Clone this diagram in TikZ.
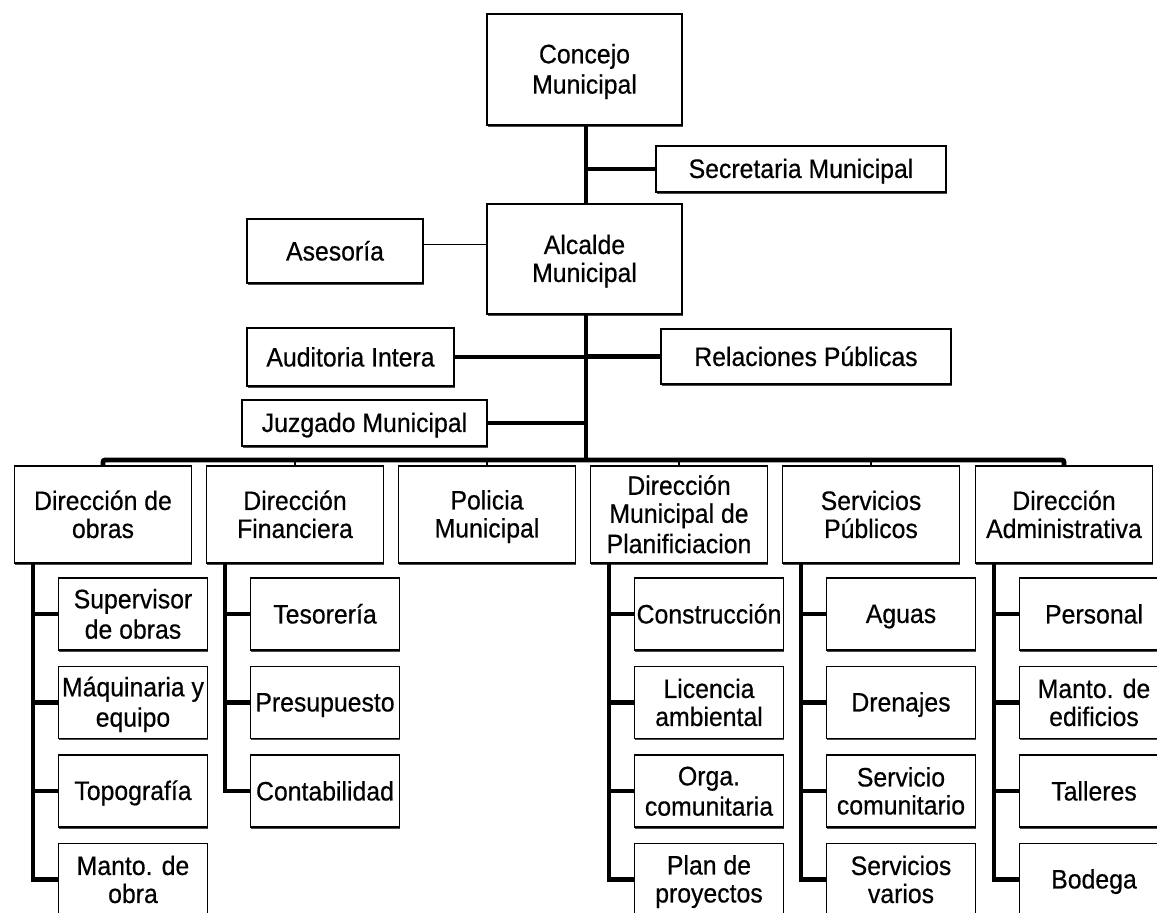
\documentclass[tikz,border=0pt]{standalone}
\usepackage{fontspec}
\setmainfont{Liberation Sans}[FakeStretch=0.93,FakeBold=0.5]
\usetikzlibrary{shadows}
\newcommand{\orgfs}{\fontsize{20}{21}\selectfont}
\newcommand{\sr}{\rule[-3.4pt]{0pt}{21pt}}
\begin{document}
\begin{tikzpicture}[x=0.75pt,y=-0.75pt,
  box/.style={draw=black, line width=1.1pt, fill=white, align=center, inner sep=0pt, font=\orgfs,
    drop shadow={shadow xshift=0.5pt, shadow yshift=-1.4pt, fill=black!70, opacity=1}},
  lvl/.style={box, minimum width=132.75pt, minimum height=72.75pt},
  subbox/.style={box, minimum width=111.75pt, minimum height=54pt},
  thickline/.style={line width=3.6pt, line join=miter},
  subline/.style={line width=3.2pt, line join=miter},
  thinline/.style={line width=1pt},
  stub/.style={line width=1.6pt}]
\useasboundingbox (0,0) rectangle (1157,913);
\fill[white] (0,0) rectangle (1157,913);
\begin{scope}
\clip (0,0) rectangle (1157,913);

% upper part
\node[box, minimum width=146.25pt, minimum height=83.25pt] (concejo) at (584.5,69.5) {\sr Concejo\\\sr Municipal};
\node[box, minimum width=217.5pt, minimum height=34.5pt] (secretaria) at (801,169) {\sr Secretaria Municipal};
\node[box, minimum width=146.25pt, minimum height=82.5pt] (alcalde) at (584.5,259) {\sr Alcalde\\\sr Municipal};
\node[box, minimum width=132pt, minimum height=48pt] (asesoria) at (335,251) {\sr Asesoría};
\node[box, minimum width=155.25pt, minimum height=43.5pt] (auditoria) at (350.5,357) {\sr Auditoria Intera};
\node[box, minimum width=217.5pt, minimum height=41.25pt] (relaciones) at (806,356.5) {\sr Relaciones Públicas};
\node[box, minimum width=183.75pt, minimum height=34.5pt] (juzgado) at (364.5,423) {\sr Juzgado Municipal};

% level 1
\node[lvl] (d1) at (103,514.5) {\sr Dirección de\\\sr obras};
\node[lvl] (d2) at (295,514.5) {\sr Dirección\\\sr Financiera};
\node[lvl] (d3) at (487,514.5) {\sr Policia\\\sr Municipal};
\node[lvl] (d4) at (679,514.5) {\sr Dirección\\\sr Municipal de\\\sr Planificiacion};
\node[lvl] (d5) at (871,514.5) {\sr Servicios\\\sr Públicos};
\node[lvl] (d6) at (1064,514.5) {\sr Dirección\\\sr Administrativa};

% sub boxes
\node[subbox] (s11) at (133,614) {\sr Supervisor\\\sr de obras};
\node[subbox] (s12) at (133,702.5) {\sr Máquinaria y\\\sr equipo};
\node[subbox] (s13) at (133,791) {\sr Topografía};
\node[subbox] (s14) at (133,879.5) {\sr Manto. de\\\sr obra};

\node[subbox] (s21) at (325,614) {\sr Tesorería};
\node[subbox] (s22) at (325,702.5) {\sr Presupuesto};
\node[subbox] (s23) at (325,791) {\sr Contabilidad};

\node[subbox] (s41) at (709,614) {\sr Construcción};
\node[subbox] (s42) at (709,702.5) {\sr Licencia\\\sr ambiental};
\node[subbox] (s43) at (709,791) {\sr Orga.\\\sr comunitaria};
\node[subbox] (s44) at (709,879.5) {\sr Plan de\\\sr proyectos};

\node[subbox] (s51) at (901,614) {\sr Aguas};
\node[subbox] (s52) at (901,702.5) {\sr Drenajes};
\node[subbox] (s53) at (901,791) {\sr Servicio\\\sr comunitario};
\node[subbox] (s54) at (901,879.5) {\sr Servicios\\\sr varios};

\node[subbox] (s61) at (1094,614) {\sr Personal};
\node[subbox] (s62) at (1094,702.5) {\sr Manto. de\\\sr edificios};
\node[subbox] (s63) at (1094,791) {\sr Talleres};
\node[subbox] (s64) at (1094,879.5) {\sr Bodega};

% connectors upper
\coordinate (bus) at (586,460);
\draw[thickline] ([xshift=1.1pt]concejo.south) -- ([xshift=1.1pt]alcalde.north);
\draw[thickline] ([xshift=1.1pt]alcalde.south) -- ([xshift=1.1pt]alcalde.south |- bus);
\draw[thickline] (secretaria.west) -- (secretaria.west -| bus);
\draw[thinline] ([yshift=5pt]asesoria.east) -- ([yshift=5pt]asesoria.east -| alcalde.west);
\draw[thickline] (auditoria.east) -- (auditoria.east -| bus);
\draw[thickline] (relaciones.west) -- (relaciones.west -| bus);
\draw[thickline] (juzgado.east) -- (juzgado.east -| bus);

% bus
\draw[thickline, rounded corners=1.5pt] (d1.north) -- (d1.north |- bus) -- (d6.north |- bus) -- (d6.north);
\draw[stub] (d2.north) -- (d2.north |- bus);
\draw[stub] (d3.north) -- (d3.north |- bus);
\draw[stub] (d4.north) -- (d4.north |- bus);
\draw[stub] (d5.north) -- (d5.north |- bus);

% sub verticals
\coordinate (v1) at ([xshift=14.25pt]d1.south west);
\coordinate (v2) at ([xshift=14.25pt]d2.south west);
\coordinate (v4) at ([xshift=14.25pt]d4.south west);
\coordinate (v5) at ([xshift=14.25pt]d5.south west);
\coordinate (v6) at ([xshift=14.25pt]d6.south west);

\draw[subline] (v1) |- (s14.west);
\draw[subline] (v1 |- s11.west) -- (s11.west);
\draw[subline] (v1 |- s12.west) -- (s12.west);
\draw[subline] (v1 |- s13.west) -- (s13.west);

\draw[subline] (v2) |- (s23.west);
\draw[subline] (v2 |- s21.west) -- (s21.west);
\draw[subline] (v2 |- s22.west) -- (s22.west);

\draw[subline] (v4) |- (s44.west);
\draw[subline] (v4 |- s41.west) -- (s41.west);
\draw[subline] (v4 |- s42.west) -- (s42.west);
\draw[subline] (v4 |- s43.west) -- (s43.west);

\draw[subline] (v5) |- (s54.west);
\draw[subline] (v5 |- s51.west) -- (s51.west);
\draw[subline] (v5 |- s52.west) -- (s52.west);
\draw[subline] (v5 |- s53.west) -- (s53.west);

\draw[subline] (v6) |- (s64.west);
\draw[subline] (v6 |- s61.west) -- (s61.west);
\draw[subline] (v6 |- s62.west) -- (s62.west);
\draw[subline] (v6 |- s63.west) -- (s63.west);
\end{scope}
\end{tikzpicture}
\end{document}
